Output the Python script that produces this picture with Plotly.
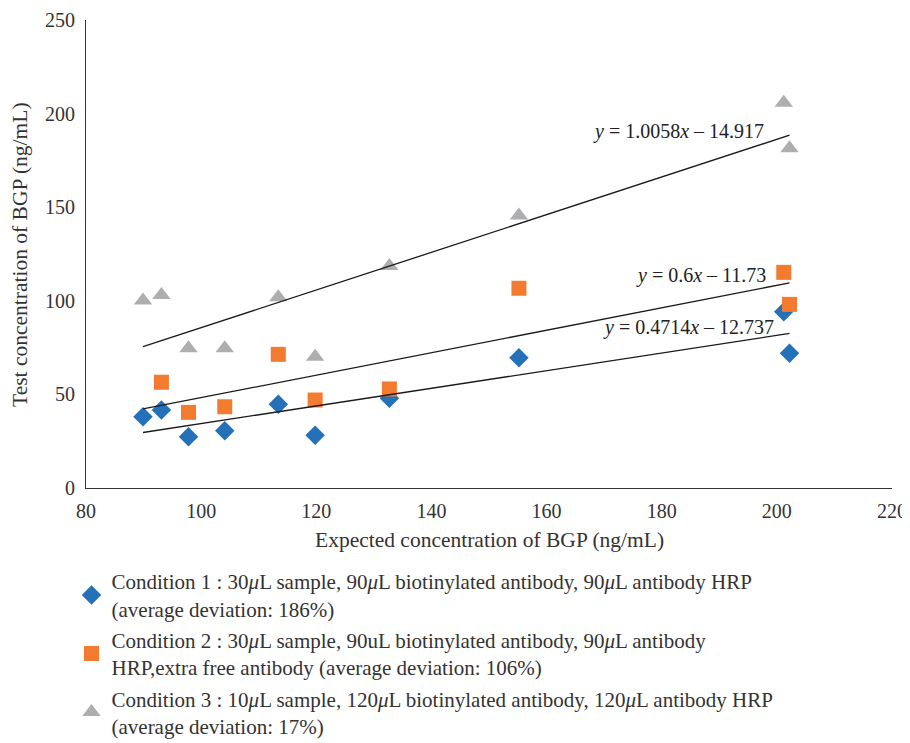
import plotly.graph_objects as go

# ---- data ----
expected = [89.9, 93.1, 97.8, 104.1, 113.4, 119.8, 132.7, 155.2, 201.2, 202.2]
cond1 = [38.1, 41.7, 27.4, 30.6, 44.7, 28.2, 47.9, 69.6, 94.2, 72.0]
cond2 = [None, 56.5, 40.4, 43.4, 71.4, 47.0, 52.9, 106.7, 115.2, 98.1]
cond3 = [100.1, 103.1, 74.6, 74.6, 101.9, 70.1, 118.6, 145.5, 205.8, 181.5]

slopes = [0.4714, 0.6, 1.0058]
intercepts = [-12.737, -11.73, -14.917]
eq_labels = ["<i>y</i> = 0.4714<i>x</i> – 12.737",
             "<i>y</i> = 0.6<i>x</i> – 11.73",
             "<i>y</i> = 1.0058<i>x</i> – 14.917"]

names = [
    "Condition 1 : 30<i>μ</i>L sample, 90<i>μ</i>L biotinylated antibody, 90<i>μ</i>L antibody HRP<br>(average deviation: 186%)",
    "Condition 2 : 30<i>μ</i>L sample, 90uL biotinylated antibody, 90<i>μ</i>L antibody<br>HRP,extra free antibody (average deviation: 106%)",
    "Condition 3 : 10<i>μ</i>L sample, 120<i>μ</i>L biotinylated antibody, 120<i>μ</i>L antibody HRP<br>(average deviation: 17%)",
]
x_title = "Expected concentration of BGP (ng/mL)"
y_title = "Test concentration of BGP (ng/mL)"
x_ticks = [80, 100, 120, 140, 160, 180, 200, 220]
y_ticks = [0, 50, 100, 150, 200, 250]

colors = ["#2471B9", "#F37B2F", "#AEAEB1"]
symbols = ["diamond", "square", "triangle-up"]
sizes = [15, 15, 16]
series = [cond1, cond2, cond3]

FONT = "Liberation Serif"
fig = go.Figure()

for i, ys in enumerate(series):
    fig.add_trace(go.Scatter(
        x=expected, y=ys, mode="markers", name=names[i],
        legendgroup=f"g{i}",
        marker=dict(symbol=symbols[i], size=sizes[i], color=colors[i]),
    ))

xmin, xmax = min(expected), max(expected)
for i in range(3):
    fig.add_trace(go.Scatter(
        x=[xmin, xmax],
        y=[slopes[i] * xmin + intercepts[i], slopes[i] * xmax + intercepts[i]],
        mode="lines", line=dict(color="#1a1a1a", width=1.3),
        showlegend=False, hoverinfo="skip",
    ))

ann_pos = [(199.9, 86), (198.5, 113.5), (198.2, 190.5)]
for i in range(3):
    fig.add_annotation(x=ann_pos[i][0], y=ann_pos[i][1], text=eq_labels[i],
                       showarrow=False, xanchor="right", yanchor="middle",
                       font=dict(family=FONT, size=20, color="#222"))

# axis titles
fig.add_annotation(xref="paper", yref="paper", x=0.501, y=-0.111, text=x_title,
                   showarrow=False, xanchor="center", yanchor="middle",
                   font=dict(family=FONT, size=21.5, color="#333"))
fig.add_annotation(xref="paper", yref="paper", x=-0.0819, y=0.5, text=y_title,
                   showarrow=False, xanchor="center", yanchor="middle", textangle=-90,
                   font=dict(family=FONT, size=21.5, color="#333"))

fig.update_layout(
    width=902, height=735,
    margin=dict(l=78, r=18, t=12, b=255),
    plot_bgcolor="white", paper_bgcolor="white",
    font=dict(family=FONT, size=20, color="#333"),
    xaxis=dict(range=[80, 220], tickvals=x_ticks, showgrid=False, zeroline=False,
               showline=True, linecolor="#333", linewidth=1, ticks="",
               automargin=False, tickfont=dict(size=20), ticklabelstandoff=5),
    yaxis=dict(range=[0, 250], tickvals=y_ticks, showgrid=False, zeroline=False,
               showline=True, linecolor="#333", linewidth=1, ticks="",
               automargin=False, tickfont=dict(size=20), ticklabelstandoff=6),
    legend=dict(xref="paper", yref="container", x=-0.018, xanchor="left",
                y=0.2475, yanchor="top",
                tracegroupgap=1, font=dict(family=FONT, size=21, color="#333"),
                bgcolor="rgba(0,0,0,0)"),
    showlegend=True,
)

fig.write_html("out.html")
